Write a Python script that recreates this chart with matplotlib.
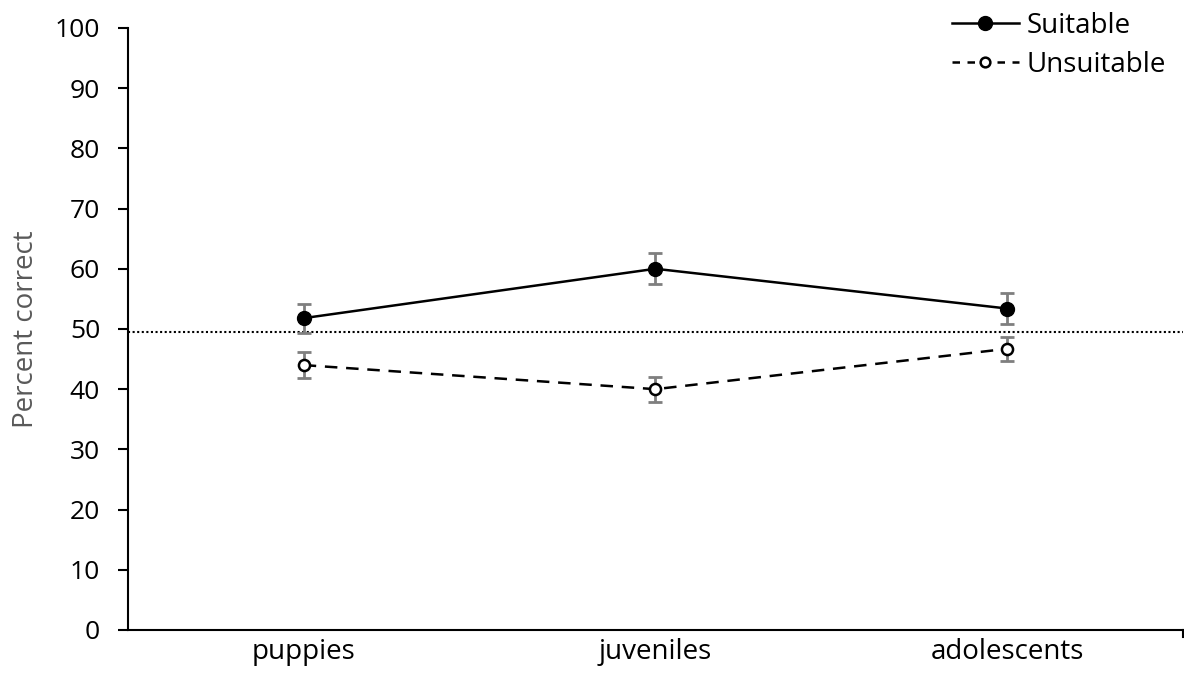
import matplotlib
matplotlib.use("Agg")
import matplotlib.pyplot as plt
from matplotlib.lines import Line2D

plt.rcParams['font.family'] = ['Open Sans', 'DejaVu Sans']

groups = ['puppies', 'juveniles', 'adolescents']
suitable = [51.8, 60.0, 53.4]
suitable_err = [2.4, 2.6, 2.5]
unsuitable = [44.0, 40.0, 46.7]
unsuitable_err = [2.1, 2.1, 2.0]
chance = 49.5

fig = plt.figure(figsize=(11.84, 6.92), dpi=100)
ax = fig.add_axes([0.108, 0.0896, 0.891, 0.87])

x = list(range(len(groups)))
grey = '#7f7f7f'

# error bars under the lines and markers
ax.errorbar(x, suitable, yerr=suitable_err, fmt='none', ecolor=grey,
            elinewidth=2.0, capsize=4.8, capthick=2.0, zorder=2)
ax.errorbar(x, unsuitable, yerr=unsuitable_err, fmt='none', ecolor=grey,
            elinewidth=2.0, capsize=4.8, capthick=2.0, zorder=2)

ax.plot(x, suitable, color='black', lw=1.8, marker='o', ms=10,
        mfc='black', mec='black', zorder=3, label='Suitable')
ax.plot(x, unsuitable, color='black', lw=1.8, ls=(0, (5, 3.5)), marker='o',
        ms=8, mfc='white', mec='black', mew=1.8, zorder=3, label='Unsuitable')

ax.axhline(chance, color='black', lw=1.5, ls=(0, (1, 1.2)), zorder=1)

ax.set_xlim(-0.5, 2.5)
ax.set_ylim(0, 100)
ax.set_yticks(range(0, 101, 10))
ax.set_xticks(x)
ax.set_xticklabels(groups)
ax.tick_params(axis='y', labelsize=19, length=7, width=1.5, direction='out', pad=13)
ax.tick_params(axis='x', labelsize=20, length=0, pad=6)
ax.set_ylabel('Percent correct', fontsize=20, color='#595959')
ax.yaxis.set_label_coords(-0.083, 0.5)

for side in ['top', 'right']:
    ax.spines[side].set_visible(False)
for side in ['left', 'bottom']:
    ax.spines[side].set_linewidth(1.5)

# small tick at the end of the category axis
ax.plot([2.5, 2.5], [0, -1.2], color='black', lw=1.5, clip_on=False)

handles = [
    Line2D([], [], color='black', lw=1.8, marker='o', ms=10),
    Line2D([], [], color='black', lw=1.8, ls=(0, (3, 3)), marker='o', ms=7,
           mfc='white', mew=1.8),
]
leg = ax.legend(handles, ['Suitable', 'Unsuitable'], loc='upper right',
                bbox_to_anchor=(1.008, 1.068), frameon=False, fontsize=20,
                handlelength=2.4, handletextpad=0.3, labelspacing=0.4)

fig.savefig('out.png', dpi=100)
